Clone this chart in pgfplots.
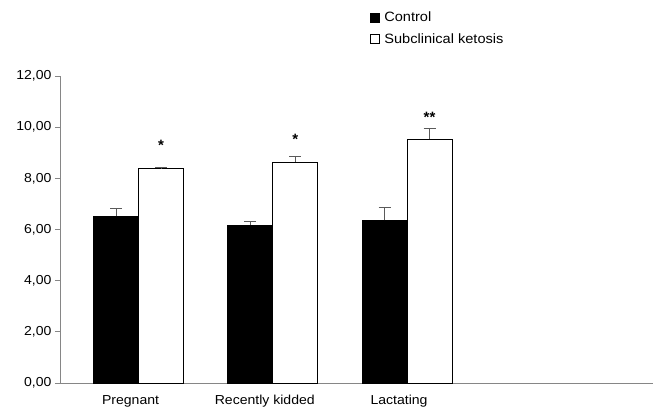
\documentclass[border=0pt]{standalone}
\usepackage{fontspec}
\setmainfont{Liberation Sans}
\usepackage{graphicx}
\usepackage{pgfplots}
\pgfplotsset{compat=1.18}
\newcommand{\sx}[1]{\scalebox{1.08}[1]{#1}}
\definecolor{axgray}{RGB}{134,134,134}
\definecolor{errgray}{RGB}{90,90,90}
% x = category index -/+ half a bar (22.5bp / 134.25bp per category)
\pgfplotstableread{
x y e
-0.1676 6.52 0.30
0.8324 6.17 0.13
1.8324 6.37 0.50
}\control
\pgfplotstableread{
x y e
0.1676 8.37 0.05
1.1676 8.64 0.23
2.1676 9.52 0.41
}\sck
\begin{document}
\begin{tikzpicture}
\begin{axis}[
  scale only axis, width=593bp, height=307bp,
  xmin=-0.585, xmax=3.832, ymin=0, ymax=12,
  axis x line=bottom, axis y line=left,
  axis line style={axgray, line width=0.8bp, -},
  ytick={0,2,4,6,8,10,12},
  xtick={0,1,2}, xticklabels={\sx{Pregnant},\sx{Recently kidded},\sx{Lactating}},
  x tick style={draw=none},
  y tick style={axgray, line width=0.8bp},
  tick align=outside, major tick length=5bp,
  font=\fontsize{13bp}{15bp}\selectfont,
  xticklabel style={xshift=-8bp, yshift=-4bp},
  yticklabel={\sx{\pgfmathprintnumber{\tick}}},
  /pgf/number format/.cd, fixed, fixed zerofill, precision=2, use comma, assume math mode=true,
  /pgfplots/.cd,
  legend style={at={(0.522,1.215)}, anchor=north west, draw=none, fill=none,
    inner sep=0pt, row sep=6bp, font=\fontsize{13.5bp}{15bp}\selectfont,
    /tikz/every odd column/.append style={column sep=3bp}},
  legend cell align=left,
]
\addlegendimage{legend image code/.code={\draw[fill=black,draw=black,line width=0.6bp] (0bp,-4.5bp) rectangle (9bp,4.5bp);}}
\addlegendentry{\sx{Control}}
\addlegendimage{legend image code/.code={\draw[fill=white,draw=black,line width=0.6bp] (0bp,-4.5bp) rectangle (9bp,4.5bp);}}
\addlegendentry{\sx{Subclinical ketosis}}
\addplot[forget plot, ybar, bar width=45bp, bar shift=0pt, fill=black, draw=black, line width=0.8bp,
  error bars/.cd, y dir=plus, y explicit,
  error bar style={errgray, line width=1bp},
  error mark options={errgray, rotate=90, mark size=6bp, line width=1bp}]
  table[x=x, y=y, y error=e] {\control};
\addplot[forget plot, ybar, bar width=45bp, bar shift=0pt, fill=white, draw=black, line width=0.8bp,
  error bars/.cd, y dir=plus, y explicit,
  error bar style={errgray, line width=1bp},
  error mark options={errgray, rotate=90, mark size=6bp, line width=1bp}]
  table[x=x, y=y, y error=e] {\sck};
\node[anchor=north, inner sep=0pt, font=\fontsize{15bp}{17bp}\selectfont] at (axis cs:0.1676,9.49) {\textbf{*}};
\node[anchor=north, inner sep=0pt, font=\fontsize{15bp}{17bp}\selectfont] at (axis cs:1.1676,9.75) {\textbf{*}};
\node[anchor=north, inner sep=0pt, font=\fontsize{15bp}{17bp}\selectfont] at (axis cs:2.1676,10.6) {\textbf{**}};
\end{axis}
\pgfresetboundingbox
\path[use as bounding box] ([xshift=-60bp,yshift=-34bp]current axis.south west) rectangle ([xshift=11bp,yshift=76bp]current axis.north east);
\end{tikzpicture}
\end{document}
